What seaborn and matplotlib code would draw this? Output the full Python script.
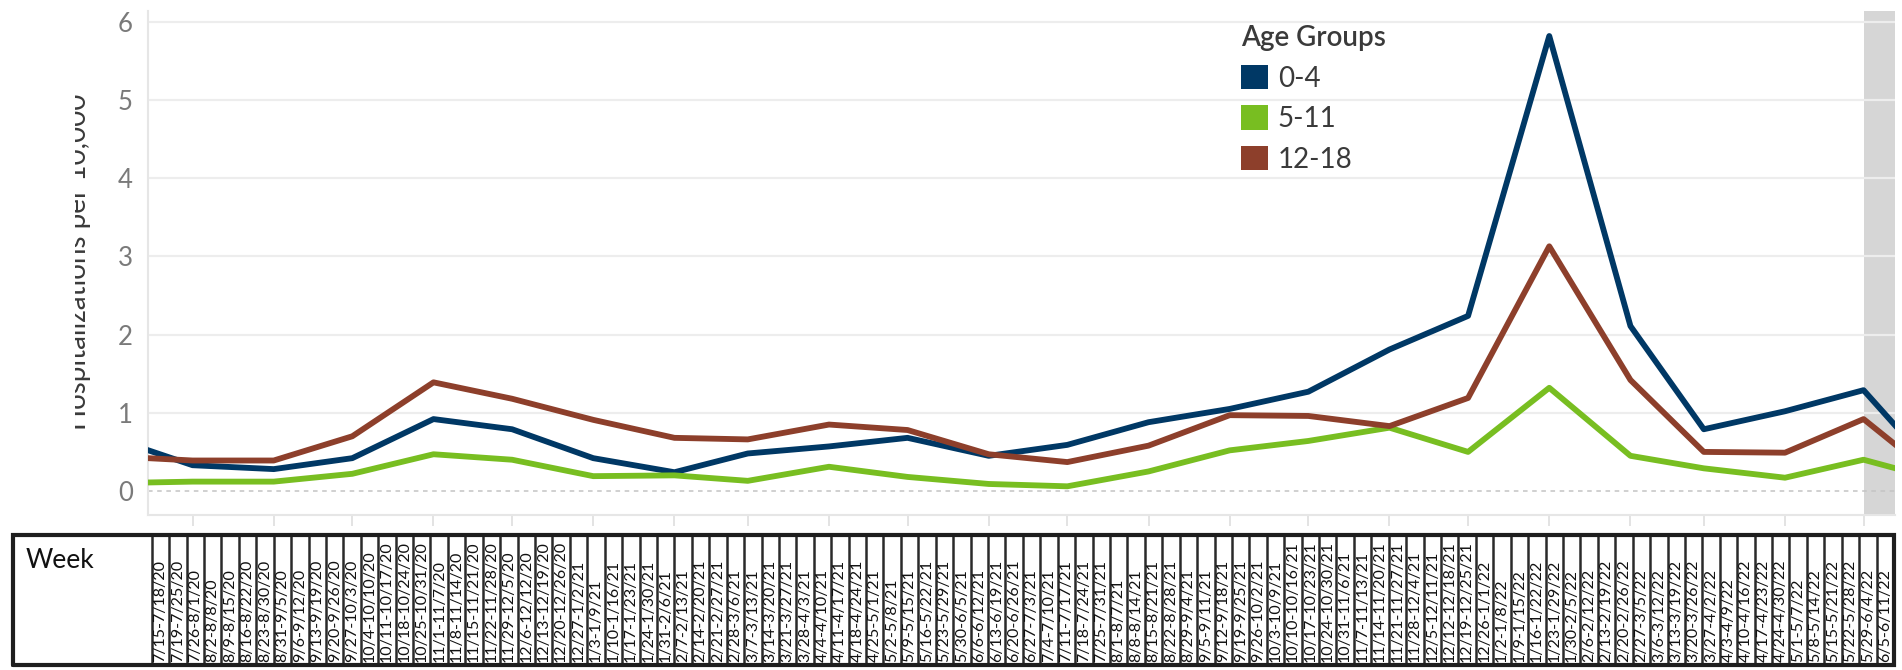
import numpy as np
import pandas as pd
import matplotlib
matplotlib.use("Agg")
import matplotlib.pyplot as plt
import matplotlib.dates as mdates
from matplotlib.patches import Patch
from matplotlib.transforms import Bbox
import seaborn as sns

# ---------------- data ----------------
months = ["2020-07", "2020-08", "2020-09", "2020-10", "2020-11", "2020-12",
          "2021-01", "2021-02", "2021-03", "2021-04", "2021-05", "2021-06",
          "2021-07", "2021-08", "2021-09", "2021-10", "2021-11", "2021-12",
          "2022-01", "2022-02", "2022-03", "2022-04", "2022-05", "2022-06"]

age_0_4 = [0.68, 0.33, 0.28, 0.42, 0.92, 0.79, 0.42, 0.24, 0.48, 0.57, 0.68, 0.45,
           0.59, 0.88, 1.05, 1.27, 1.81, 2.24, 5.82, 2.11, 0.79, 1.02, 1.29, 0.13]
age_5_11 = [0.10, 0.12, 0.12, 0.22, 0.47, 0.40, 0.19, 0.20, 0.13, 0.31, 0.18, 0.09,
            0.06, 0.25, 0.52, 0.64, 0.81, 0.50, 1.32, 0.45, 0.29, 0.17, 0.40, 0.12]
age_12_18 = [0.445, 0.39, 0.39, 0.70, 1.39, 1.18, 0.91, 0.68, 0.66, 0.85, 0.78, 0.47,
             0.37, 0.58, 0.97, 0.96, 0.83, 1.19, 3.13, 1.42, 0.50, 0.49, 0.92, 0.085]

groups = ["0-4", "5-11", "12-18"]
colors = ["#003865", "#78BE21", "#8D3F2B"]

weeks = [
    "7/15-7/18/20", "7/19-7/25/20", "7/26-8/1/20", "8/2-8/8/20", "8/9-8/15/20",
    "8/16-8/22/20", "8/23-8/30/20", "8/31-9/5/20", "9/6-9/12/20", "9/13-9/19/20",
    "9/20-9/26/20", "9/27-10/3/20", "10/4-10/10/20", "10/11-10/17/20", "10/18-10/24/20",
    "10/25-10/31/20", "11/1-11/7/20", "11/8-11/14/20", "11/15-11/21/20", "11/22-11/28/20",
    "11/29-12/5/20", "12/6-12/12/20", "12/13-12/19/20", "12/20-12/26/20", "12/27-1/2/21",
    "1/3-1/9/21", "1/10-1/16/21", "1/17-1/23/21", "1/24-1/30/21", "1/31-2/6/21",
    "2/7-2/13/21", "2/14-2/20/21", "2/21-2/27/21", "2/28-3/6/21", "3/7-3/13/21",
    "3/14-3/20/21", "3/21-3/27/21", "3/28-4/3/21", "4/4-4/10/21", "4/11-4/17/21",
    "4/18-4/24/21", "4/25-5/1/21", "5/2-5/8/21", "5/9-5/15/21", "5/16-5/22/21",
    "5/23-5/29/21", "5/30-6/5/21", "6/6-6/12/21", "6/13-6/19/21", "6/20-6/26/21",
    "6/27-7/3/21", "7/4-7/10/21", "7/11-7/17/21", "7/18-7/24/21", "7/25-7/31/21",
    "8/1-8/7/21", "8/8-8/14/21", "8/15-8/21/21", "8/22-8/28/21", "8/29-9/4/21",
    "9/5-9/11/21", "9/12-9/18/21", "9/19-9/25/21", "9/26-10/2/21", "10/3-10/9/21",
    "10/10-10/16/21", "10/17-10/23/21", "10/24-10/30/21", "10/31-11/6/21", "11/7-11/13/21",
    "11/14-11/20/21", "11/21-11/27/21", "11/28-12/4/21", "12/5-12/11/21", "12/12-12/18/21",
    "12/19-12/25/21", "12/26-1/1/22", "1/2-1/8/22", "1/9-1/15/22", "1/16-1/22/22",
    "1/23-1/29/22", "1/30-2/5/22", "2/6-2/12/22", "2/13-2/19/22", "2/20-2/26/22",
    "2/27-3/5/22", "3/6-3/12/22", "3/13-3/19/22", "3/20-3/26/22", "3/27-4/2/22",
    "4/3-4/9/22", "4/10-4/16/22", "4/17-4/23/22", "4/24-4/30/22", "5/1-5/7/22",
    "5/8-5/14/22", "5/15-5/21/22", "5/22-5/28/22", "5/29-6/4/22", "6/5-6/11/22",
]

view_start = "2020-07-15"
view_end = "2022-05-13"
highlight_start = "2022-05-01"

# ---------------- figure ----------------
sns.set_theme(style="white")
plt.rcParams["font.family"] = ["Lato", "DejaVu Sans"]

W, H = 1902, 670
fig = plt.figure(figsize=(W / 100, H / 100), dpi=100)

def fx(px):
    return px / W

def fy(py):
    return 1 - py / H

ax = fig.add_axes([fx(148), fy(515), fx(1895) - fx(148), fy(11) - fy(515)])

df = pd.DataFrame({
    "month": pd.to_datetime(months * 3),
    "value": age_0_4 + age_5_11 + age_12_18,
    "group": [g for g in groups for _ in months],
})

ax.axvspan(pd.Timestamp(highlight_start), pd.Timestamp(view_end),
           color="#D6D6D6", zorder=0, lw=0)

sns.lineplot(data=df, x="month", y="value", hue="group", hue_order=groups,
             palette=colors, linewidth=4.2, legend=False, ax=ax, zorder=3)

ax.set_xlim(pd.Timestamp(view_start), pd.Timestamp(view_end))
ax.set_ylim(-0.307, 6.14)

# grid
for yv in range(1, 7):
    ax.axhline(yv, color="#EDEDED", lw=1.6, zorder=1)
ax.axhline(0, color="#C4C4C4", lw=1.1, ls=(0, (3, 3)), zorder=1)

ax.set_yticks(range(0, 7))
ax.tick_params(axis="y", length=0, pad=11, labelsize=18.5, labelcolor="#7A7A7A")
ax.xaxis.set_major_locator(mdates.MonthLocator())
ax.tick_params(axis="x", length=8, width=1.4, color="#E3E3E3", labelbottom=False,
               direction="out", bottom=True)
for s in ["top", "right"]:
    ax.spines[s].set_visible(False)
for s in ["left", "bottom"]:
    ax.spines[s].set_color("#E6E6E6")
    ax.spines[s].set_linewidth(1.5)
ax.set_xlabel("")
ax.set_ylabel("")

# y label (clipped like the original)
yl = fig.text(fx(91), fy(262), "Hospitalizations per 10,000", rotation=90,
              ha="right", va="center", fontsize=20, color="#3A3A3A")
yl.set_clip_box(Bbox.from_extents(75, 0, 200, H))
yl.set_clip_on(True)

# legend
handles = [Patch(facecolor=c, edgecolor="none", label=g) for g, c in zip(groups, colors)]
leg = ax.legend(handles=handles, title="Age Groups", loc="upper left",
                bbox_to_anchor=(fx(1241), fy(25)), bbox_transform=fig.transFigure,
                frameon=False, fontsize=20, alignment="left",
                title_fontproperties={"size": 20, "weight": "semibold"},
                handlelength=0.97, handleheight=0.97, handletextpad=0.35,
                labelspacing=0.5, borderpad=0, borderaxespad=0, labelcolor="#3A3A3A")
leg.get_title().set_color("#3A3A3A")

# ---------------- week table ----------------
tab = fig.add_axes([fx(12.7), fy(665), fx(1894) - fx(12.7), fy(535) - fy(665)])
n = len(weeks)
header_w = 7.98
tab.set_xlim(-header_w, n)
tab.set_ylim(0, 1)
tab.axis("off")

xs = np.arange(n)
tab.vlines(np.arange(0, n + 1), 0, 1, color="#2A2A2A", lw=1.8)
tab.plot([-header_w, n, n, -header_w, -header_w], [0, 0, 1, 1, 0],
         color="#1E1E1E", lw=3, clip_on=False, solid_joinstyle="miter")
for i, w in zip(xs, weeks):
    tab.text(i + 0.5, 0.025, w, rotation=90, ha="center", va="bottom",
             fontsize=11.5, color="#111111")
tab.text(-header_w + 0.75, 0.9, "Week", ha="left", va="top", fontsize=19, color="#111111")

fig.savefig("out.png", dpi=100)
